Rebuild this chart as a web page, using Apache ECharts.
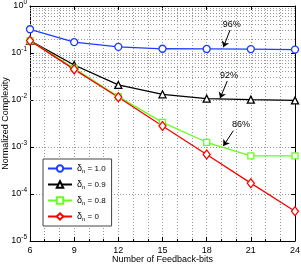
<!DOCTYPE html>
<html><head><meta charset="utf-8">
<script src="https://cdn.jsdelivr.net/npm/echarts@6/dist/echarts.min.js"></script>
<style>html,body{margin:0;padding:0;background:#fff}#c{width:301px;height:264px}</style>
</head><body><div id="c"></div>
<script>
const bits = [6, 9, 12, 15, 18, 21, 24];
const delta10 = [0.32, 0.17, 0.135, 0.123, 0.122, 0.121, 0.118];
const delta09 = [0.183, 0.0556, 0.0209, 0.0132, 0.0107, 0.0102, 0.0098];
const delta08 = [0.183, 0.047, 0.0118, 0.00335, 0.00126, 0.00065, 0.00065];
const delta00 = [0.183, 0.0449, 0.0114, 0.0028, 0.00069, 0.00017, 0.000043];
const legendValues = ['1.0', '0.9', '0.8', '0'];
const xTicks = [6, 9, 12, 15, 18, 21, 24];
const annText = ['96%', '92%', '86%'];
const annTextPos = [[19.7, 0.394], [19.52, 0.0329], [20.33, 0.00304]];
const annFrom = [[19.59, 0.308], [19.4, 0.0254], [19.81, 0.00222]];
const annTo = [[19.13, 0.132], [18.91, 0.01087], [19.13, 0.00105]];

const FONT = 'Liberation Sans, Arial, sans-serif';
const minorY = [];
for (let e = -5; e < 0; e++) for (let m = 2; m <= 9; m++) minorY.push({ yAxis: m * Math.pow(10, e) });

function mk(name, data, color, symbol, size) {
  return {
    name: name, type: 'line', data: bits.map((b, i) => [b, data[i]]),
    symbol: symbol, symbolSize: size,
    lineStyle: { color: color, width: 1.3 },
    itemStyle: { color: '#fff', borderColor: color, borderWidth: 1.3 },
    emphasis: { disabled: true }, z: 5
  };
}
const series = [
  mk('1.0', delta10, '#1f3dff', 'circle', 7),
  mk('0.9', delta09, '#000000', 'triangle', 7),
  mk('0.8', delta08, '#66ff1a', 'rect', 6),
  mk('0', delta00, '#ff0000', 'diamond', [7, 9])
];
series[0].markLine = {
  silent: true, symbol: 'none', label: { show: false },
  lineStyle: { type: [1, 2], color: '#999', width: 1 },
  data: minorY, animation: false, z: 1
};
series[1].markLine = {
  silent: true, symbol: ['none', 'arrow'], symbolSize: 6, label: { show: false },
  lineStyle: { type: 'solid', color: '#000', width: 1 },
  data: annFrom.map((f, i) => [{ coord: f }, { coord: annTo[i] }]), animation: false
};

const axisCommon = {
  axisLine: { show: true, lineStyle: { color: '#000', width: 1 } },
  axisTick: { show: true, inside: true, length: 4, lineStyle: { color: '#000' } },
};
const chart = echarts.init(document.getElementById('c'), null, { renderer: 'canvas' });
chart.setOption({
  animation: false,
  backgroundColor: '#fff',
  grid: { left: 30, right: 6, top: 6, bottom: 23, outerBoundsMode: 'none', containLabel: false },
  legend: {
    left: 43, top: 159, orient: 'vertical', itemWidth: 24, itemHeight: 8, itemGap: 6,
    padding: [5, 6, 4, 4], borderColor: '#444', borderWidth: 1, backgroundColor: '#fff',
    data: series.map(s => s.name),
    formatter: n => '{d|δ}{n|n}{t| = ' + n + '}',
    textStyle: {
      fontFamily: FONT, fontSize: 8, color: '#000',
      rich: {
        d: { fontSize: 9, fontFamily: FONT },
        n: { fontSize: 6, fontFamily: FONT, padding: [5, 0, 0, 0] },
        t: { fontSize: 8, fontFamily: FONT }
      }
    }
  },
  xAxis: [{
    type: 'value', min: 6, max: 24, interval: 3, ...axisCommon,
    axisLabel: { fontFamily: FONT, fontSize: 9, color: '#000', margin: 5 },
    minorTick: { show: true, splitNumber: 3, length: 2 },
    splitLine: { show: true, lineStyle: { type: [1, 2], color: '#999' } },
    minorSplitLine: { show: true, lineStyle: { type: [1, 2], color: '#999' } },
    name: 'Number of Feedback-bits', nameLocation: 'middle', nameGap: 14, nameMoveOverlap: false,
    nameTextStyle: { fontFamily: FONT, fontSize: 9, color: '#000', verticalAlign: 'top' }
  }, {
    type: 'value', min: 6, max: 24, interval: 3, position: 'top', ...axisCommon,
    axisLabel: { show: false }, splitLine: { show: false }
  }],
  yAxis: [{
    type: 'log', logBase: 10, min: 1e-5, max: 1, ...axisCommon,
    axisLabel: {
      fontFamily: FONT, color: '#000', margin: 3,
      formatter: v => '{b|10}{s|' + Math.round(Math.log10(v)) + '}',
      rich: {
        b: { fontSize: 9, fontFamily: FONT },
        s: { fontSize: 6.5, fontFamily: FONT, padding: [0, 0, 7, 0] }
      }
    },
    splitLine: { show: true, lineStyle: { type: [1, 2], color: '#999' } },
    name: 'Normalized Complexity', nameLocation: 'middle', nameGap: 20, nameMoveOverlap: false,
    nameTextStyle: { fontFamily: FONT, fontSize: 9, color: '#000' }
  }, {
    type: 'log', logBase: 10, min: 1e-5, max: 1, position: 'right', ...axisCommon,
    axisLabel: { show: false }, splitLine: { show: false }
  }],
  series: series
});
const g = annText.map((t, i) => {
  const p = chart.convertToPixel({ xAxisIndex: 0, yAxisIndex: 0 }, annTextPos[i]);
  return { type: 'text', x: p[0], y: p[1], z: 20,
    style: { text: t, fill: '#000', font: '9px ' + FONT, align: 'center', verticalAlign: 'middle' } };
});
chart.setOption({ graphic: g });
</script></body></html>
